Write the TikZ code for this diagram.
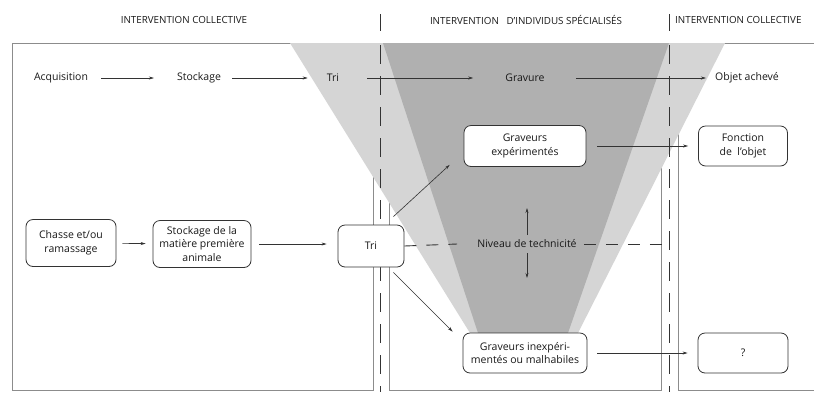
\documentclass[tikz,border=0pt]{standalone}
\usepackage{fontspec}
\setmainfont{Open Sans}
\usetikzlibrary{arrows.meta,calc}
\begin{document}
\begin{tikzpicture}[x=1pt,y=-1pt,
  every node/.style={font=\fontsize{10.5}{13.5}\selectfont, text=black!90, inner sep=0pt},
  box/.style={draw=black!80, line width=0.8pt, rounded corners=7pt, fill=white, align=center},
  arr/.style={draw=black!80, line width=0.6pt, -{Stealth[length=5pt,width=3pt]}},
  panel/.style={draw=black!45, line width=0.6pt},
  divider/.style={draw=black!80, line width=0.9pt, dash pattern=on 19pt off 12pt},
  dashline/.style={draw=black!80, line width=0.9pt, dash pattern=on 12pt off 10pt},
  hdr/.style={font=\fontsize{9.8}{11}\selectfont}
]
\useasboundingbox (0,0) rectangle (814,392);
\fill[white] (0,0) rectangle (814,392);
% panels
\draw[panel] (12,43) rectangle (373,390);
\draw[panel] (389,43) rectangle (661,390);
\draw[panel] (814,43) -- (678,43) -- (678,390) -- (814,390);
% funnels
\fill[gray!33] (290,43) -- (725,43) -- (578,333) -- (470,333) -- cycle;
\fill[gray!62] (383,43) -- (669,43) -- (568,333) -- (478,333) -- cycle;
% dividers
\coordinate (d1t) at (380,14); \coordinate (d1a) at (380,31);
\coordinate (d1b) at (380,45); \coordinate (d1c) at (380,392);
\coordinate (d2t) at (669,14); \coordinate (d2a) at (669,31);
\coordinate (d2b) at (669,45); \coordinate (d2c) at (669,392);
\draw[black!80, line width=0.8pt] (d1t) -- (d1a);
\draw[black!80, line width=0.8pt] (d2t) -- (d2a);
\draw[divider] (d1b) -- (d1c);
\draw[divider] (d2b) -- (d2c);
% headers
\node[hdr] (h1) at (184,20) {INTERVENTION COLLECTIVE};
\node[hdr] (h2) at (526,20) {INTERVENTION\ \ \ D'INDIVIDUS SPÉCIALISÉS};
\node[hdr, anchor=west] (h3) at (675,20) {INTERVENTION COLLECTIVE};
% top row
\node (acq) at (61,78) {Acquisition};
\node (stk) at (199,78) {Stockage};
\node (tri) at (333,78) {Tri};
\node (grav) at (525,78) {Gravure};
\node (obj) at (747,78) {Objet achevé};
\draw[arr, shorten <=13pt, shorten >=23pt] (acq) -- (stk);
\draw[arr, shorten <=11pt, shorten >=19pt] (stk) -- (tri);
\draw[arr, shorten <=28pt, shorten >=32pt] (tri) -- (grav);
\draw[arr, shorten <=31pt, shorten >=9pt] (grav) -- (obj);
% boxes
\node[box, minimum width=90pt, minimum height=47pt] (chasse) at (71,243) {Chasse et/ou\\ramassage};
\node[box, minimum width=98pt, minimum height=47pt] (stockm) at (202,244) {Stockage de la\\matière première\\animale};
\node[box, minimum width=66pt, minimum height=42pt] (trib) at (371,246) {Tri};
\node[box, minimum width=122pt, minimum height=41pt] (gexp) at (525,146) {Graveurs\\expérimentés};
\node[box, minimum width=124pt, minimum height=40pt] (ginexp) at (525,353) {Graveurs inexpéri-\\mentés ou malhabiles};
\node[box, minimum width=89pt, minimum height=40pt] (fonc) at (743,146) {Fonction\\de\ \ l'objet};
\node[box, minimum width=90pt, minimum height=40pt] (q) at (743,353) {?};
\node (niv) at (527,244) {Niveau de technicité};
\coordinate (dashend) at (670,244);
% arrows
\draw[arr, shorten <=6pt, shorten >=7pt] (chasse) -- (stockm);
\draw[arr, shorten <=8pt, shorten >=11pt] (stockm.east) -- (trib.west |- stockm.east);
\draw[arr] ($(trib.north east)+(-11,-8)$) -- ($(gexp.south west)+(-14,-2)$);
\draw[arr] ($(trib.south east)+(-11,5)$) -- ($(ginexp.north west)+(-10,-1)$);
\draw[arr, shorten <=11pt, shorten >=10pt] (gexp) -- (fonc);
\draw[arr, shorten <=10pt, shorten >=10pt] (ginexp) -- (q);
\draw[dashline] (trib.east) -- ($(niv.west)+(-20,0)$);
\draw[dashline] ($(niv.east)+(7,0)$) -- (dashend);
\draw[arr] ($(niv.center)+(0,-9)$) -- ($(niv.center)+(0,-36)$);
\draw[arr] ($(niv.center)+(0,9)$) -- ($(niv.center)+(0,34)$);
\end{tikzpicture}
\end{document}
